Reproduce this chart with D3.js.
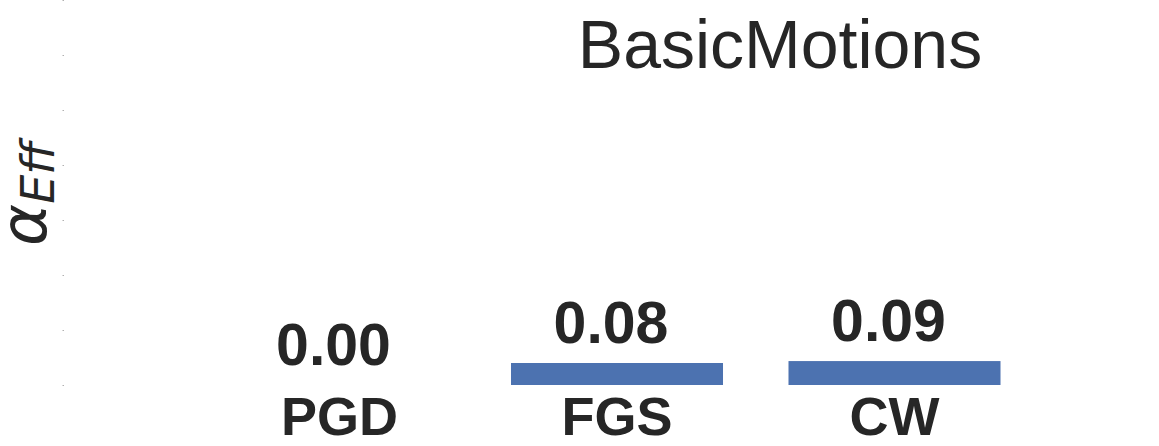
<!DOCTYPE html>
<html>
<head>
<meta charset="utf-8">
<script src="https://cdn.jsdelivr.net/npm/d3@7"></script>
<style>
  body { margin: 0; background: #fff; }
  svg { display: block; }
</style>
</head>
<body>
<svg id="Canvas" width="1159" height="446"></svg>
<script>
// data
var methods = ["PGD", "FGS", "CW"];
var alphaEff = [0.0, 0.08, 0.087];
var yTicks = [0, 0.2, 0.4, 0.6, 0.8, 1.0, 1.2, 1.4];
var title = "BasicMotions";

var svg = d3.select("#Canvas");
var ink = "#262626";

// index -> pixel, one empty slot on each side like the original axes
var x = d3.scaleLinear().domain([-1, 3]).range([62, 1172]);
var y = d3.scaleLinear().domain([0, 1.4]).range([385, 0]);
var barW = x(0.764) - x(0);

// tiny tick marks on the left, no labels, no spine
var yAxis = svg.append("g")
  .attr("transform", "translate(64,0)")
  .call(d3.axisLeft(y).tickValues(yTicks).tickSize(1.5).tickFormat(""));
yAxis.select(".domain").remove();
yAxis.selectAll(".tick line").attr("stroke", "#b0b0b0");

svg.append("g")
  .selectAll("rect")
  .data(methods)
  .enter()
  .append("rect")
  .attr("x", (d, i) => x(i) - barW / 2)
  .attr("width", barW)
  .attr("y", (d, i) => y(alphaEff[i]))
  .attr("height", (d, i) => y(0) - y(alphaEff[i]))
  .attr("fill", "#4c72b0");

// value labels above each bar (sit a little left of centre in the original)
svg.append("g")
  .selectAll("text")
  .data(methods)
  .enter()
  .append("text")
  .attr("x", (d, i) => x(i) - 6)
  .attr("y", (d, i) => y(alphaEff[i]) - 20)
  .attr("text-anchor", "middle")
  .style("font-family", "Liberation Sans, Arial, sans-serif")
  .style("font-weight", "bold")
  .style("font-size", "59px")
  .style("fill", ink)
  .text((d, i) => d3.format(".2f")(alphaEff[i]));

// category labels
svg.append("g")
  .selectAll("text")
  .data(methods)
  .enter()
  .append("text")
  .attr("x", (d, i) => x(i))
  .attr("y", 435)
  .attr("text-anchor", "middle")
  .style("font-family", "Liberation Sans, Arial, sans-serif")
  .style("font-weight", "bold")
  .style("font-size", "54px")
  .style("fill", ink)
  .text(d => d);

svg.append("text")
  .attr("x", 780)
  .attr("y", 68)
  .attr("text-anchor", "middle")
  .style("font-family", "Liberation Sans, Arial, sans-serif")
  .style("font-size", "68px")
  .style("fill", ink)
  .text(title);

// y label: alpha with subscript Eff, rotated
var ylab = svg.append("text")
  .attr("transform", "translate(46,246) rotate(-90)")
  .style("font-family", "DejaVu Sans, sans-serif")
  .style("font-style", "italic")
  .style("font-size", "64px")
  .style("fill", ink);
ylab.append("tspan").text("α");
ylab.append("tspan")
  .attr("dy", 8)
  .style("font-size", "46px")
  .text("Eff");
</script>
</body>
</html>
